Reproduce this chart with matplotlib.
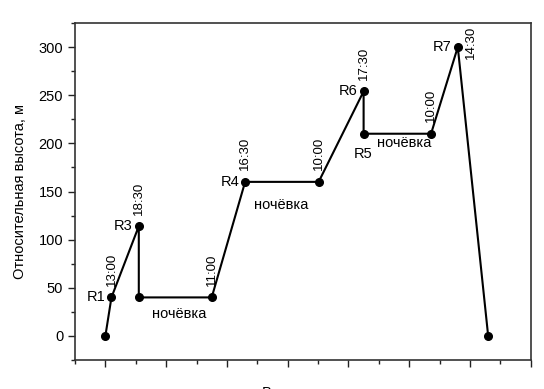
import matplotlib
matplotlib.use("Agg")
import matplotlib.pyplot as plt
from matplotlib.ticker import MultipleLocator, NullFormatter

plt.rcParams['font.family'] = ['Liberation Sans', 'DejaVu Sans']

# маршрут: условное время (x) и относительная высота (y)
x = [0.0, 0.10, 0.55, 0.55, 1.75, 2.30, 3.51, 4.25, 4.25, 5.36, 5.80, 6.30]
h = [0, 40, 114, 40, 40, 160, 160, 254, 210, 210, 300, 0]

# подписи точек
names = ["R1", "R3", "R4", "R6", "R5", "R7"]
name_idx = [1, 2, 5, 7, 8, 10]
times = ["13:00", "18:30", "11:00", "16:30", "10:00", "17:30", "10:00", "14:30"]
time_idx = [1, 2, 4, 5, 6, 7, 9, 10]
night_label = "ночёвка"
night_x = [1.22, 2.90, 4.92]
night_y = [23, 136, 200]

fig = plt.figure(figsize=(5.44, 3.89), dpi=100)
ax = fig.add_axes([75/544, 29/389, (530.7-75)/544, (360-23)/389])

ax.plot(x, h, color='black', lw=1.5, marker='o', ms=5.5, zorder=3)

ax.set_xlim(-0.5, 7)
ax.set_ylim(-25, 325)
ax.xaxis.set_major_locator(MultipleLocator(1))
ax.xaxis.set_minor_locator(MultipleLocator(0.5))
ax.xaxis.set_major_formatter(NullFormatter())
ax.yaxis.set_major_locator(MultipleLocator(50))
ax.yaxis.set_minor_locator(MultipleLocator(25))
ax.tick_params(axis='both', which='both', direction='out', top=False, right=False,
               labelsize=10.5, color='#222222')
ax.tick_params(axis='both', which='major', length=5, width=1)
ax.tick_params(axis='both', which='minor', length=3, width=1)
for s in ax.spines.values():
    s.set_linewidth(1.2)
    s.set_color('#333333')

ax.set_ylabel("Относительная высота, м", fontsize=10.5, labelpad=8)

# подписи R
for name, i in zip(names, name_idx):
    if name == "R5":
        ax.text(x[i], h[i] - 14, name, ha='center', va='top', fontsize=10.5)
    else:
        ax.text(x[i] - 0.1, h[i], name, ha='right', va='center', fontsize=10.5)

# время (повернутые подписи)
for t, i in zip(times, time_idx):
    if t == "14:30":
        ax.text(x[i] + 0.22, h[i] + 5, t, rotation=90, ha='center', va='center', fontsize=9.5)
    else:
        ax.text(x[i], h[i] + 12, t, rotation=90, ha='center', va='bottom', fontsize=9.5)

for nx, ny in zip(night_x, night_y):
    ax.text(nx, ny, night_label, ha='center', va='center', fontsize=10.5)

fig.text(306/544, 2.5/389, "Время, сутки", ha='center', va='top', fontsize=10.5)

fig.savefig("out.png", dpi=100)
